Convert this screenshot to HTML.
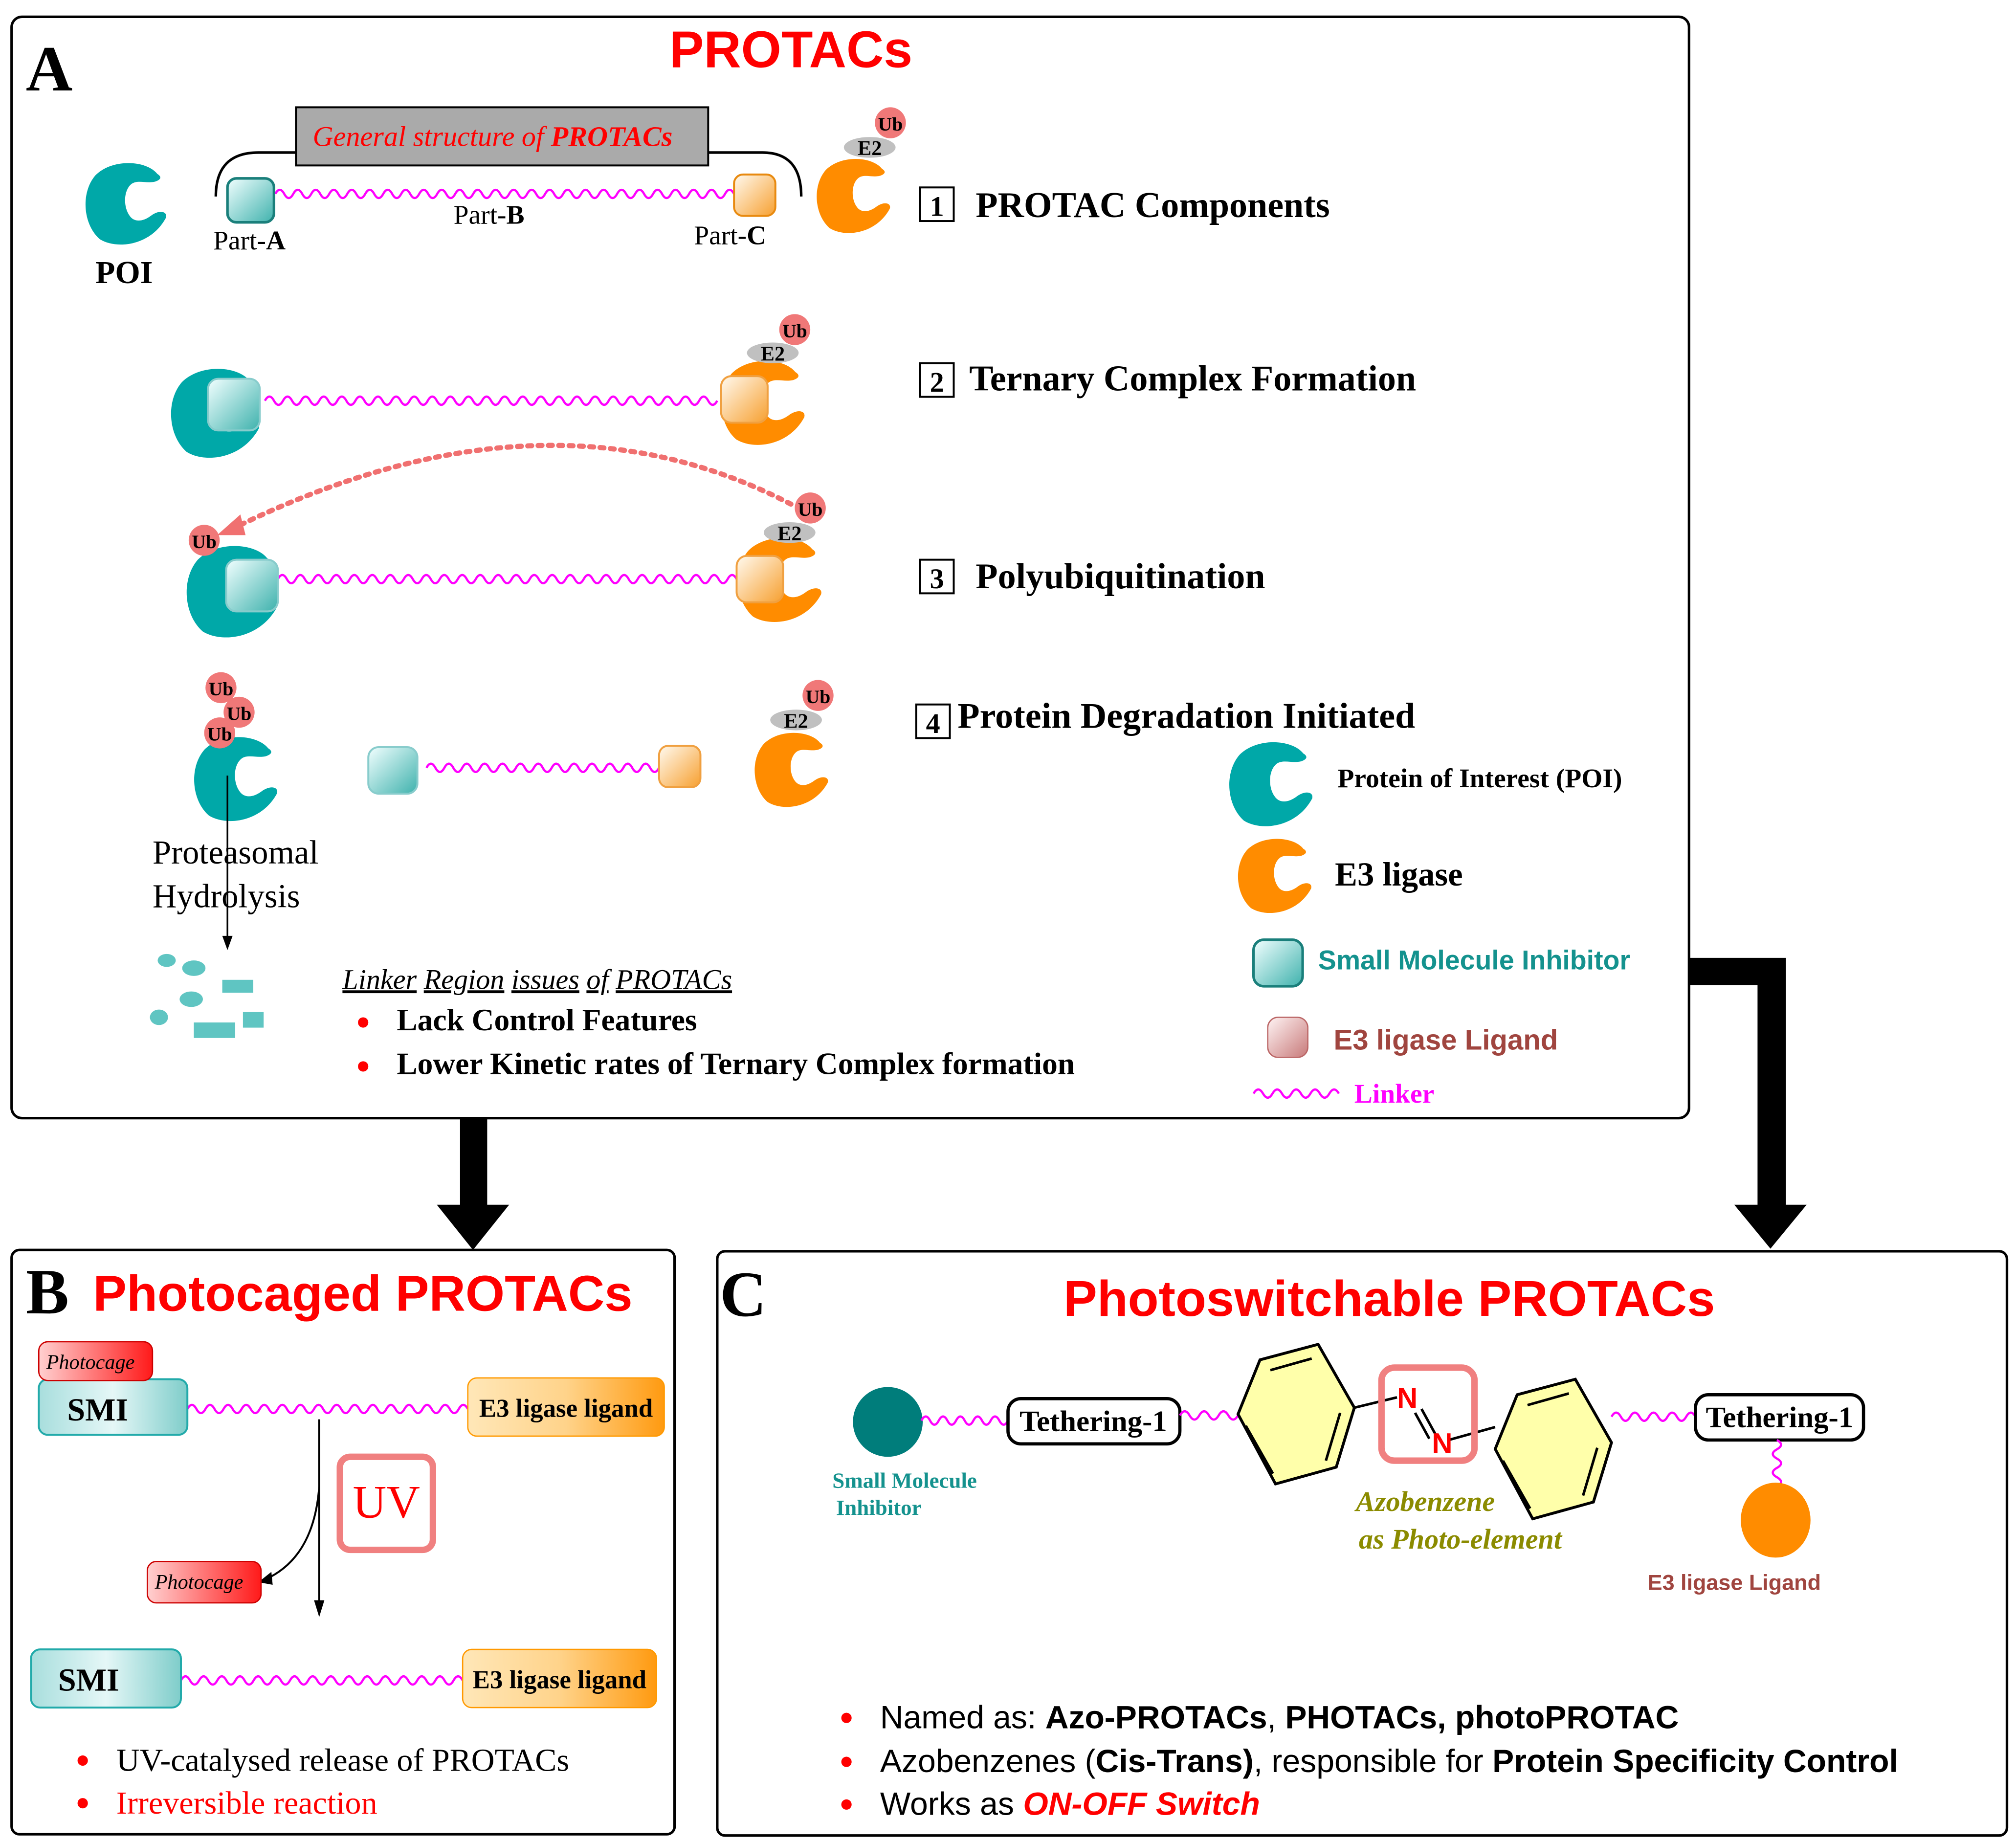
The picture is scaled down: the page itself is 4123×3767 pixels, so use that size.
<!DOCTYPE html>
<html><head><meta charset="utf-8"><style>html,body{margin:0;padding:0;background:#fff}svg{display:block}line.wv{stroke:#ff00ff;stroke-width:1.7}</style></head><body>
<svg id="root" xmlns="http://www.w3.org/2000/svg" width="4123" height="3767" viewBox="0 0 1560 1425" preserveAspectRatio="none">
<defs>
<symbol id="cr" viewBox="-1 -1 2 2"><path d="M0.75,-0.68 C0.5,-1 -0.3,-1.05 -0.7,-0.65 C-1.05,-0.25 -1.0,0.5 -0.6,0.85 C-0.2,1.1 0.6,1.0 0.95,0.35 C1.0,0.2 0.8,0.15 0.6,0.3 C0.4,0.45 0.2,0.45 0.1,0.3 C-0.05,0.1 -0.05,-0.3 0.15,-0.45 C0.3,-0.55 0.5,-0.45 0.7,-0.5 C0.85,-0.55 0.85,-0.62 0.75,-0.68 Z"/></symbol>
<linearGradient id="gt" x1="0" y1="0" x2="1" y2="1"><stop offset="0" stop-color="#f2ffff"/><stop offset="1" stop-color="#3fb2ad"/></linearGradient>
<linearGradient id="go" x1="0" y1="0" x2="1" y2="1"><stop offset="0" stop-color="#fffaf0"/><stop offset="1" stop-color="#f7a030"/></linearGradient>
<linearGradient id="gp" x1="0" y1="0" x2="1" y2="1"><stop offset="0" stop-color="#fff4f4"/><stop offset="1" stop-color="#c87a7a"/></linearGradient>
<linearGradient id="gtb" x1="0" y1="0" x2="1" y2="0"><stop offset="0" stop-color="#a8dedd"/><stop offset="0.5" stop-color="#e5f7f7"/><stop offset="1" stop-color="#7fcdca"/></linearGradient>
<linearGradient id="gob" x1="0" y1="0" x2="1" y2="0"><stop offset="0" stop-color="#ffe7b8"/><stop offset="0.5" stop-color="#ffd38a"/><stop offset="1" stop-color="#ff9a10"/></linearGradient>
<linearGradient id="grb" x1="0" y1="0" x2="1" y2="0"><stop offset="0" stop-color="#ffd0d0"/><stop offset="1" stop-color="#ff1a1a"/></linearGradient>
</defs>
<g font-family="Liberation Serif, serif">
<!-- Box A -->
<rect x="9" y="13" width="1298" height="852" rx="8" fill="none" stroke="#000" stroke-width="2"/>
<text x="20" y="70" font-size="50" font-weight="bold">A</text>
<text x="612" y="52" font-size="40" font-weight="bold" fill="#ff0000" text-anchor="middle" font-family="Liberation Sans, sans-serif">PROTACs</text>
<path d="M167,152 Q167,118 200,118 L590,118 Q620,118 620,152" fill="none" stroke="#000" stroke-width="2"/>
<rect x="229" y="83" width="319" height="45" fill="#aaa" stroke="#000" stroke-width="1.5"/>
<text x="242" y="113" font-size="22" font-style="italic" fill="#ff0000">General structure of <tspan font-weight="bold">PROTACs</tspan></text>
<use href="#cr" x="64" y="121" width="66" height="72" fill="#00a8a8"/>
<text x="96" y="219" font-size="25" font-weight="bold" text-anchor="middle">POI</text>
<line class="wv" x1="213" y1="150" x2="568" y2="150"/>
<rect x="176" y="138" width="36" height="34" rx="7" fill="url(#gt)" stroke="#1a7f7b" stroke-width="2"/>
<rect x="568" y="135" width="32" height="32" rx="7" fill="url(#go)" stroke="#e88a10" stroke-width="1.5"/>
<text x="165" y="193" font-size="21">Part-<tspan font-weight="bold">A</tspan></text>
<text x="351" y="173" font-size="21">Part-<tspan font-weight="bold">B</tspan></text>
<text x="537" y="189" font-size="21">Part-<tspan font-weight="bold">C</tspan></text>
<use href="#cr" x="630" y="118" width="60" height="66" fill="#ff8c00"/>
<ellipse cx="673" cy="114" rx="20" ry="8" fill="#c0c0c0"/><text x="673" y="120" font-size="16" font-weight="bold" text-anchor="middle">E2</text>
<circle cx="689" cy="95" r="12" fill="#f07878"/><text x="689" y="101" font-size="15" font-weight="bold" text-anchor="middle">Ub</text>
<rect x="712" y="145" width="26" height="26" fill="none" stroke="#000" stroke-width="1.5"/><text x="725" y="167" font-size="22" font-weight="bold" text-anchor="middle">1</text>
<text x="755" y="168" font-size="28" font-weight="bold">PROTAC Components</text>
<!-- Row 2 -->
<use href="#cr" x="130" y="283" width="72" height="72" fill="#00a8a8"/>
<line class="wv" x1="205" y1="310" x2="555" y2="310"/>
<rect x="161" y="293" width="40" height="40" rx="8" fill="url(#gt)" stroke="#8cc" stroke-width="1.5"/>
<use href="#cr" x="556" y="277" width="68" height="68" fill="#ff8c00"/>
<rect x="558" y="291" width="36" height="36" rx="8" fill="url(#go)" stroke="#f0a040" stroke-width="1.5"/>
<ellipse cx="598" cy="273" rx="20" ry="8" fill="#c0c0c0"/><text x="598" y="279" font-size="16" font-weight="bold" text-anchor="middle">E2</text>
<circle cx="615" cy="255" r="12" fill="#f07878"/><text x="615" y="261" font-size="15" font-weight="bold" text-anchor="middle">Ub</text>
<rect x="712" y="281" width="26" height="26" fill="none" stroke="#000" stroke-width="1.5"/><text x="725" y="303" font-size="22" font-weight="bold" text-anchor="middle">2</text>
<text x="750" y="302" font-size="28" font-weight="bold">Ternary Complex Formation</text>
<!-- Row 3 -->
<path d="M612,390 Q420,290 178,410" fill="none" stroke="#f07070" stroke-width="4" stroke-dasharray="3,5" stroke-linecap="round"/>
<polygon points="168,414 186,398 190,414" fill="#f07070"/>
<use href="#cr" x="142" y="420" width="74" height="74" fill="#00a8a8"/>
<line class="wv" x1="215" y1="448" x2="570" y2="448"/>
<rect x="175" y="433" width="40" height="40" rx="8" fill="url(#gt)" stroke="#8cc" stroke-width="1.5"/>
<circle cx="158" cy="418" r="12" fill="#f07878"/><text x="158" y="424" font-size="15" font-weight="bold" text-anchor="middle">Ub</text>
<use href="#cr" x="569" y="414" width="68" height="68" fill="#ff8c00"/>
<rect x="570" y="430" width="36" height="36" rx="8" fill="url(#go)" stroke="#f0a040" stroke-width="1.5"/>
<ellipse cx="611" cy="412" rx="20" ry="8" fill="#c0c0c0"/><text x="611" y="418" font-size="16" font-weight="bold" text-anchor="middle">E2</text>
<circle cx="627" cy="393" r="12" fill="#f07878"/><text x="627" y="399" font-size="15" font-weight="bold" text-anchor="middle">Ub</text>
<rect x="712" y="433" width="26" height="26" fill="none" stroke="#000" stroke-width="1.5"/><text x="725" y="455" font-size="22" font-weight="bold" text-anchor="middle">3</text>
<text x="755" y="455" font-size="28" font-weight="bold">Polyubiquitination</text>
<!-- Row 4 -->
<use href="#cr" x="148" y="566" width="68" height="72" fill="#00a8a8"/>
<circle cx="171" cy="532" r="12" fill="#f07878"/><text x="171" y="538" font-size="15" font-weight="bold" text-anchor="middle">Ub</text>
<circle cx="185" cy="551" r="12" fill="#f07878"/><text x="185" y="557" font-size="15" font-weight="bold" text-anchor="middle">Ub</text>
<circle cx="170" cy="567" r="12" fill="#f07878"/><text x="170" y="573" font-size="15" font-weight="bold" text-anchor="middle">Ub</text>
<line class="wv" x1="330" y1="594" x2="510" y2="594"/>
<rect x="285" y="578" width="38" height="36" rx="8" fill="url(#gt)" stroke="#8cc" stroke-width="1.5"/>
<rect x="510" y="577" width="32" height="32" rx="7" fill="url(#go)" stroke="#f0a040" stroke-width="1.5"/>
<use href="#cr" x="582" y="562" width="60" height="66" fill="#ff8c00"/>
<ellipse cx="616" cy="557" rx="20" ry="8" fill="#c0c0c0"/><text x="616" y="563" font-size="16" font-weight="bold" text-anchor="middle">E2</text>
<circle cx="633" cy="538" r="12" fill="#f07878"/><text x="633" y="544" font-size="15" font-weight="bold" text-anchor="middle">Ub</text>
<rect x="709" y="545" width="26" height="26" fill="none" stroke="#000" stroke-width="1.5"/><text x="722" y="567" font-size="22" font-weight="bold" text-anchor="middle">4</text>
<text x="741" y="563" font-size="28" font-weight="bold">Protein Degradation Initiated</text>
<line x1="176" y1="600" x2="176" y2="725" stroke="#000" stroke-width="1.3"/><polygon points="172,724 180,724 176,735" fill="#000"/>
<text x="118" y="668" font-size="26">Proteasomal</text>
<text x="118" y="702" font-size="26">Hydrolysis</text>
<g fill="#5fc5c2"><ellipse cx="129" cy="743" rx="7" ry="5"/><ellipse cx="150" cy="749" rx="9" ry="6"/><ellipse cx="148" cy="773" rx="9" ry="6"/><ellipse cx="123" cy="787" rx="7" ry="6"/><rect x="172" y="758" width="24" height="10"/><rect x="150" y="791" width="32" height="12"/><rect x="188" y="783" width="16" height="12"/></g>
<text x="265" y="765" font-size="22" font-style="italic"><tspan text-decoration="underline">Linker</tspan> <tspan text-decoration="underline">Region</tspan> <tspan text-decoration="underline">issues</tspan> <tspan text-decoration="underline">of</tspan> <tspan text-decoration="underline">PROTACs</tspan></text>
<circle cx="281" cy="791" r="4" fill="#ff0000"/><circle cx="281" cy="825" r="4" fill="#ff0000"/>
<text x="307" y="797" font-size="24" font-weight="bold">Lack Control Features</text>
<text x="307" y="831" font-size="24" font-weight="bold">Lower Kinetic rates of Ternary Complex formation</text>
<!-- Legend -->
<use href="#cr" x="949" y="570" width="68" height="72" fill="#00a8a8"/>
<text x="1035" y="609" font-size="21" font-weight="bold">Protein of Interest (POI)</text>
<use href="#cr" x="956" y="644" width="60" height="66" fill="#ff8c00"/>
<text x="1033" y="685" font-size="26" font-weight="bold">E3 ligase</text>
<rect x="970" y="727" width="38" height="36" rx="8" fill="url(#gt)" stroke="#1a7f7b" stroke-width="2"/>
<text x="1020" y="750" font-size="21" font-weight="bold" fill="#14928e" font-family="Liberation Sans, sans-serif">Small Molecule Inhibitor</text>
<rect x="981" y="787" width="31" height="31" rx="8" fill="url(#gp)" stroke="#b66" stroke-width="1"/>
<text x="1032" y="812" font-size="22" font-weight="bold" fill="#a0453f" font-family="Liberation Sans, sans-serif">E3 ligase Ligand</text>
<line class="wv" x1="970" y1="846" x2="1036" y2="846"/>
<text x="1048" y="853" font-size="21" font-weight="bold" fill="#ff00ff">Linker</text>
<!-- Arrows -->
<polygon points="1307,741 1382,741 1382,932 1398,932 1370,966 1342,932 1360,932 1360,762 1307,762" fill="#000"/>
<polygon points="356,865 377,865 377,932 394,932 366,967 338,932 356,932" fill="#000"/>
<!-- Box B -->
<rect x="9" y="967" width="513" height="452" rx="6" fill="none" stroke="#000" stroke-width="2"/>
<text x="20" y="1016" font-size="50" font-weight="bold">B</text>
<text x="72" y="1014" font-size="39" font-weight="bold" fill="#ff0000" font-family="Liberation Sans, sans-serif">Photocaged PROTACs</text>
<line class="wv" x1="145" y1="1090" x2="362" y2="1090"/>
<rect x="30" y="1067" width="115" height="43" rx="7" fill="url(#gtb)" stroke="#2aa" stroke-width="1.5"/>
<text x="52" y="1099" font-size="25" font-weight="bold">SMI</text>
<rect x="30" y="1038" width="88" height="30" rx="7" fill="url(#grb)" stroke="#c00" stroke-width="1"/>
<text x="70" y="1059" font-size="16" font-style="italic" text-anchor="middle">Photocage</text>
<rect x="362" y="1066" width="152" height="45" rx="7" fill="url(#gob)" stroke="#f90" stroke-width="1"/>
<text x="438" y="1096" font-size="20" font-weight="bold" text-anchor="middle">E3 ligase ligand</text>
<line x1="247" y1="1098" x2="247" y2="1240" stroke="#000" stroke-width="1.5"/><polygon points="243,1238 251,1238 247,1251" fill="#000"/>
<path d="M247,1150 Q243,1205 205,1222" fill="none" stroke="#000" stroke-width="1.5"/><polygon points="200,1224 210,1216 211,1226" fill="#000"/>
<rect x="263" y="1127" width="72" height="72" rx="8" fill="#fff" stroke="#f08080" stroke-width="5"/>
<text x="299" y="1174" font-size="36" fill="#ff0000" text-anchor="middle">UV</text>
<rect x="114" y="1208" width="88" height="32" rx="7" fill="url(#grb)" stroke="#c00" stroke-width="1"/>
<text x="154" y="1229" font-size="16" font-style="italic" text-anchor="middle">Photocage</text>
<line class="wv" x1="140" y1="1300" x2="358" y2="1300"/>
<rect x="24" y="1276" width="116" height="45" rx="7" fill="url(#gtb)" stroke="#2aa" stroke-width="1.5"/>
<text x="45" y="1308" font-size="25" font-weight="bold">SMI</text>
<rect x="358" y="1276" width="150" height="45" rx="7" fill="url(#gob)" stroke="#f90" stroke-width="1"/>
<text x="433" y="1306" font-size="20" font-weight="bold" text-anchor="middle">E3 ligase ligand</text>
<circle cx="64" cy="1362" r="4" fill="#ff0000"/><circle cx="64" cy="1395" r="4" fill="#ff0000"/>
<text x="90" y="1370" font-size="25">UV-catalysed release of PROTACs</text>
<text x="90" y="1403" font-size="25" fill="#ff0000">Irreversible reaction</text>
<!-- Box C -->
<rect x="555" y="968" width="998" height="452" rx="6" fill="none" stroke="#000" stroke-width="2"/>
<text x="557" y="1018" font-size="50" font-weight="bold">C</text>
<text x="1075" y="1018" font-size="39" font-weight="bold" fill="#ff0000" text-anchor="middle" font-family="Liberation Sans, sans-serif">Photoswitchable PROTACs</text>
<circle cx="687" cy="1100" r="27" fill="#007d7b"/>
<line class="wv" x1="713" y1="1099" x2="780" y2="1099"/>
<rect x="780" y="1082" width="133" height="35" rx="10" fill="#fff" stroke="#000" stroke-width="2.5"/>
<text x="846" y="1107" font-size="23" font-weight="bold" text-anchor="middle">Tethering-1</text>
<line class="wv" x1="913" y1="1095" x2="958" y2="1095"/>
<g stroke="#000" stroke-width="2.2" fill="#ffffaa" stroke-linejoin="miter">
<polygon points="958,1094 975,1052 1020,1040 1048,1089 1034,1135 987,1148"/>
<polygon points="1157,1121 1174,1079 1219,1067 1247,1116 1233,1162 1186,1175"/>
</g>
<g stroke="#000" stroke-width="2" fill="none">
<line x1="983" y1="1060" x2="1015" y2="1051"/><line x1="1037" y1="1093" x2="1026" y2="1130"/><line x1="964" y1="1103" x2="985" y2="1140"/>
<line x1="1182" y1="1087" x2="1214" y2="1078"/><line x1="1236" y1="1120" x2="1225" y2="1157"/><line x1="1163" y1="1130" x2="1184" y2="1167"/>
<line x1="1048" y1="1089" x2="1081" y2="1081"/><line x1="1121" y1="1114" x2="1157" y2="1104"/>
<line x1="1095" y1="1093" x2="1106" y2="1113"/><line x1="1100" y1="1090" x2="1111" y2="1110"/>
</g>
<rect x="1069" y="1058" width="72" height="72" rx="10" fill="none" stroke="#f08080" stroke-width="5"/>
<text x="1089" y="1089" font-size="22" font-weight="bold" fill="#ff0000" text-anchor="middle" font-family="Liberation Sans, sans-serif">N</text>
<text x="1116" y="1124" font-size="22" font-weight="bold" fill="#ff0000" text-anchor="middle" font-family="Liberation Sans, sans-serif">N</text>
<line class="wv" x1="1247" y1="1096" x2="1312" y2="1096"/>
<rect x="1312" y="1079" width="130" height="35" rx="10" fill="#fff" stroke="#000" stroke-width="2.5"/>
<text x="1377" y="1104" font-size="23" font-weight="bold" text-anchor="middle">Tethering-1</text>
<line class="wv" x1="1375" y1="1114" x2="1375" y2="1150"/>
<ellipse cx="1374" cy="1176" rx="27" ry="29" fill="#ff8c00"/>
<text x="1342" y="1230" font-size="17" font-weight="bold" fill="#a0453f" text-anchor="middle" font-family="Liberation Sans, sans-serif">E3 ligase Ligand</text>
<text x="700" y="1151" font-size="17" font-weight="bold" fill="#14928e" text-anchor="middle">Small Molecule</text>
<text x="680" y="1172" font-size="17" font-weight="bold" fill="#14928e" text-anchor="middle">Inhibitor</text>
<text x="1103" y="1169" font-size="22" font-weight="bold" font-style="italic" fill="#8b8b00" text-anchor="middle">Azobenzene</text>
<text x="1130" y="1198" font-size="22" font-weight="bold" font-style="italic" fill="#8b8b00" text-anchor="middle">as Photo-element</text>
<g font-family="Liberation Sans, sans-serif" font-size="25">
<circle cx="655" cy="1329" r="4" fill="#ff0000"/><circle cx="655" cy="1363" r="4" fill="#ff0000"/><circle cx="655" cy="1396" r="4" fill="#ff0000"/>
<text x="681" y="1337">Named as: <tspan font-weight="bold">Azo-PROTACs</tspan>, <tspan font-weight="bold">PHOTACs, photoPROTAC</tspan></text>
<text x="681" y="1371">Azobenzenes (<tspan font-weight="bold">Cis-Trans)</tspan>, responsible for <tspan font-weight="bold">Protein Specificity Control</tspan></text>
<text x="681" y="1404">Works as <tspan font-weight="bold" font-style="italic" fill="#ff0000">ON-OFF Switch</tspan></text>
</g>
</g>
</svg>
<script>
(function(){
var NS="http://www.w3.org/2000/svg";
var ls=document.querySelectorAll("line.wv");
for(var i=0;i<ls.length;i++){
 var l=ls[i];
 var x1=+l.getAttribute("x1"),y1=+l.getAttribute("y1"),x2=+l.getAttribute("x2"),y2=+l.getAttribute("y2");
 var len=Math.hypot(x2-x1,y2-y1),ux=(x2-x1)/len,uy=(y2-y1)/len,nx=-uy,ny=ux;
 var per=7,a=3.2,n=Math.max(1,Math.round(len/per)),step=len/n;
 var d="M"+x1+","+y1;
 for(var k=0;k<n;k++){
  var s=k*step, sg=(k%2?1:-1)*2*a;
  var cx=x1+ux*(s+step/2)+nx*sg, cy=y1+uy*(s+step/2)+ny*sg;
  var ex=x1+ux*(s+step), ey=y1+uy*(s+step);
  d+=" Q"+cx.toFixed(2)+","+cy.toFixed(2)+" "+ex.toFixed(2)+","+ey.toFixed(2);
 }
 var p=document.createElementNS(NS,"path");
 p.setAttribute("d",d);p.setAttribute("fill","none");p.setAttribute("stroke","#ff00ff");p.setAttribute("stroke-width","1.7");
 l.parentNode.replaceChild(p,l);
}
})();
</script>
</body></html>
